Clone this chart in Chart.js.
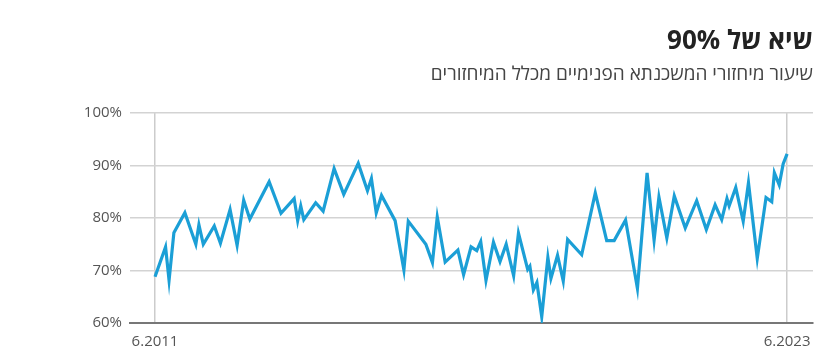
<!DOCTYPE html>
<html><head><meta charset="utf-8">
<script src="https://cdn.jsdelivr.net/npm/chart.js@4"></script>
<style>html,body{margin:0;padding:0;background:#fff}#wrap{width:828px;height:362px}</style>
</head><body><div id="wrap"><canvas id="c" dir="rtl" width="828" height="362"></canvas></div>
<script>
const titleText = 'שיא של 90%';
const subtitleText = 'שיעור מיחזורי המשכנתא הפנימיים מכלל המיחזורים';
// months since 6.2011
const monthsSinceStart = [0, 2.4, 3.2, 4.3, 6.8, 9.3, 10.0, 11.0, 13.5, 14.9,
  17.1, 18.7, 20.2, 21.6, 26.0, 28.7, 31.7, 32.5, 33.2, 33.9,
  36.6, 38.3, 40.8, 43.0, 46.3, 48.4, 49.3, 50.4, 51.6, 54.7,
  56.7, 57.7, 61.7, 63.2, 64.3, 66.1, 69.0, 70.3, 72.0, 73.3,
  74.2, 75.4, 77.1, 78.6, 80.0, 81.7, 82.8, 84.9, 85.4, 86.2,
  87.0, 88.1, 89.5, 90.2, 91.7, 93.0, 94.0, 97.2, 100.3, 102.9,
  104.6, 107.2, 109.9, 112.1, 113.7, 114.8, 116.6, 118.3, 120.8, 123.4,
  125.6, 127.6, 129.1, 130.3, 130.8, 132.3, 134.0, 135.2, 137.2, 139.2,
  140.5, 141.1, 142.2, 143.1, 144];
const ratePct = [68.8, 74.5, 68.1, 77.2, 81.0, 75.0, 78.7, 75.0, 78.5, 75.2,
  81.6, 74.8, 83.4, 79.8, 86.9, 80.9, 83.7, 79.5, 82.3, 79.7,
  82.9, 81.3, 89.4, 84.5, 90.4, 85.2, 87.5, 81.0, 84.3, 79.5,
  70.1, 79.4, 75.0, 71.5, 80.2, 71.6, 73.9, 69.2, 74.5, 73.8,
  75.5, 68.1, 75.4, 71.7, 75.0, 69.0, 77.1, 70.2, 70.8, 66.3,
  67.7, 61.2, 72.5, 68.5, 72.9, 68.0, 75.9, 73.0, 84.8, 75.7,
  75.7, 79.6, 66.6, 88.6, 75.8, 84.0, 76.2, 84.2, 78.1, 83.3,
  77.8, 82.5, 79.7, 83.7, 82.3, 85.8, 79.4, 86.7, 72.3, 83.9,
  83.1, 88.6, 86.3, 90.3, 92.2];
const xTickMonths = [0, 144];
const xTickLabels = ['6.2011', '6.2023'];
const yTickValues = [60, 70, 80, 90, 100];

const FONT = "'Open Sans', 'DejaVu Sans', sans-serif";
const points = monthsSinceStart.map((m, i) => ({x: m, y: ratePct[i]}));

new Chart(document.getElementById('c'), {
  type: 'line',
  data: { datasets: [{
    data: points,
    borderColor: '#1b9fd6',
    borderWidth: 3.2,
    pointRadius: 0,
    tension: 0,
    borderJoinStyle: 'miter',
    fill: false
  }]},
  options: {
    responsive: false,
    animation: false,
    layout: { padding: { left: 0, right: 15, top: 0, bottom: 0 } },
    plugins: {
      legend: { display: false },
      tooltip: { enabled: false },
      title: { display: true, text: titleText, align: 'end', color: '#222',
        font: { family: FONT, size: 26, weight: 'bold' }, padding: { top: 26, bottom: 4 } },
      subtitle: { display: true, text: subtitleText, align: 'end', color: '#444',
        font: { family: FONT, size: 19 }, padding: { top: 2, bottom: 27 } }
    },
    scales: {
      x: {
        type: 'linear',
        min: -5.7, max: 149.9,
        afterBuildTicks: s => { s.ticks = xTickMonths.map(v => ({value: v})); },
        afterFit: s => { s.height = 39; },
        ticks: {
          autoSkip: false, maxRotation: 0, padding: 10, color: '#555',
          font: { family: FONT, size: 15 },
          callback: v => xTickLabels[xTickMonths.indexOf(v)]
        },
        grid: { color: '#cccccc', lineWidth: 1.5, drawTicks: false },
        border: { display: true, color: '#777777', width: 2 }
      },
      y: {
        min: 60, max: 100,
        afterBuildTicks: s => { s.ticks = yTickValues.map(v => ({value: v})); },
        afterFit: s => { s.width = 130; },
        ticks: { padding: 8, color: '#555', font: { family: FONT, size: 15 },
          callback: v => v + '%' },
        grid: { color: '#d3d3d3', lineWidth: 1.5, drawTicks: false },
        border: { display: false }
      }
    }
  }
});
</script>
</body></html>
